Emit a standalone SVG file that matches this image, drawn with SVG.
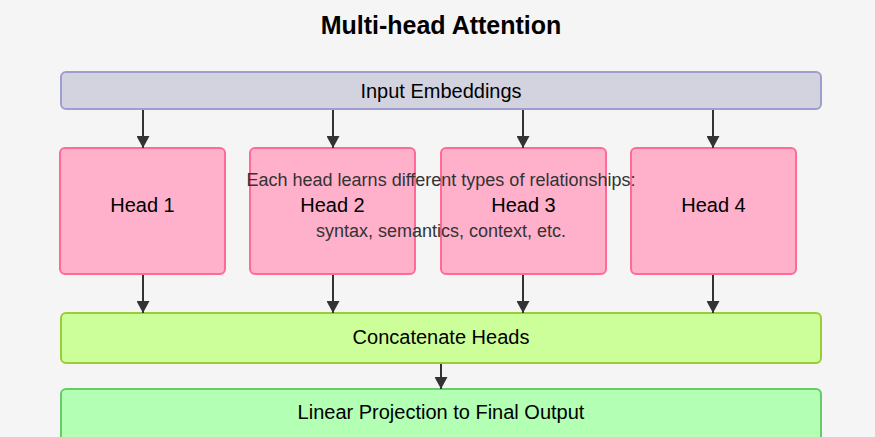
<svg xmlns="http://www.w3.org/2000/svg" width="875" height="437" viewBox="0 0 875 437">
<defs>
<marker id="arr" markerWidth="12" markerHeight="13" refX="12" refY="6.5" orient="auto" markerUnits="userSpaceOnUse" viewBox="0 0 12 13">
<path d="M0,0 L12,6.5 L0,13 Z" fill="#333"/>
</marker>
<style>
.t{font-family:"Liberation Sans",Arial,sans-serif;fill:#000;text-anchor:middle;dominant-baseline:central}
.title{font-size:25px;font-weight:bold}
.lbl{font-size:20px}
.bar{font-size:20px}
.note{font-family:"Liberation Sans",Arial,sans-serif;font-size:18px;fill:#333;text-anchor:middle;dominant-baseline:central}
.head rect{fill:#ffb0cb;stroke:#ff6b95;stroke-width:2}
.conn line{stroke:#333;stroke-width:2;marker-end:url(#arr)}
</style>
</defs>
<rect width="875" height="437" fill="#f5f5f5"/>
<text class="t title" x="441" y="25">Multi-head Attention</text>

<g id="input">
<rect x="61" y="72" width="760" height="37" rx="5" fill="#d3d3e0" stroke="#9e9ece" stroke-width="2"/>
<text class="t bar" x="441" y="91">Input Embeddings</text>
</g>

<g id="head1" class="head">
<rect x="60" y="148" width="165" height="126" rx="5"/>
<text class="t lbl" x="142.5" y="205">Head 1</text>
</g>
<g id="head2" class="head">
<rect x="250" y="148" width="165" height="126" rx="5"/>
<text class="t lbl" x="332.5" y="205">Head 2</text>
</g>
<g id="head3" class="head">
<rect x="441" y="148" width="165" height="126" rx="5"/>
<text class="t lbl" x="523.5" y="205">Head 3</text>
</g>
<g id="head4" class="head">
<rect x="631" y="148" width="165" height="126" rx="5"/>
<text class="t lbl" x="713.5" y="205">Head 4</text>
</g>

<g id="concat">
<rect x="61" y="313" width="760" height="50" rx="5" fill="#ccff99" stroke="#9acd32" stroke-width="2"/>
<text class="t bar" x="441" y="337">Concatenate Heads</text>
</g>

<g id="linear">
<rect x="61" y="389" width="760" height="60" rx="5" fill="#b3ffb3" stroke="#66cc66" stroke-width="2"/>
<text class="t bar" x="441" y="412">Linear Projection to Final Output</text>
</g>

<g id="connectors" class="conn">
<line x1="143" y1="110" x2="143" y2="148"/>
<line x1="333" y1="110" x2="333" y2="148"/>
<line x1="523" y1="110" x2="523" y2="148"/>
<line x1="713" y1="110" x2="713" y2="148"/>
<line x1="143" y1="275" x2="143" y2="313"/>
<line x1="333" y1="275" x2="333" y2="313"/>
<line x1="523" y1="275" x2="523" y2="313"/>
<line x1="713" y1="275" x2="713" y2="313"/>
<line x1="441" y1="364" x2="441" y2="389"/>
</g>

<g id="annotation">
<text class="note" x="441" y="180">Each head learns different types of relationships:</text>
<text class="note" x="441" y="231">syntax, semantics, context, etc.</text>
</g>
</svg>
